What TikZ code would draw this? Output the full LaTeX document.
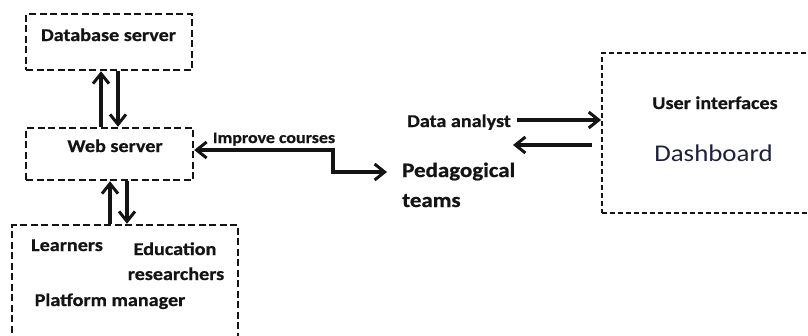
\documentclass[tikz,border=0pt]{standalone}
\usepackage{fontspec}
\setmainfont{Carlito}
\newfontfamily\labfont[FakeStretch=1.12, BoldFeatures={FakeBold=0.7}]{Carlito}
\usetikzlibrary{arrows.meta}
\definecolor{ink}{RGB}{20,20,20}
\definecolor{dashink}{RGB}{28,34,60}
\tikzset{
  dbox/.style={draw=ink, line width=2.4pt, dash pattern=on 7pt off 3.5pt, inner sep=0pt},
  thinbox/.style={draw=ink, line width=1.8pt, dash pattern=on 5pt off 3pt, inner sep=0pt},
  lab/.style={font=\labfont\bfseries\fontsize{18}{20}\selectfont, text=ink, inner sep=0pt, anchor=base},
  biglab/.style={lab, font=\labfont\bfseries\fontsize{20.5}{22}\selectfont},
  smalllab/.style={lab, font=\labfont\bfseries\fontsize{16}{18}\selectfont},
  dashlab/.style={font=\labfont\fontsize{24}{26}\selectfont, text=dashink, inner sep=0pt, anchor=base},
  tip/.tip={Straight Barb[length=10pt,width=16pt,line width=3pt]},
  arr/.style={draw=ink, line width=3.3pt, -tip},
  darr/.style={draw=ink, line width=3.3pt, tip-tip},
}
\begin{document}
\begin{tikzpicture}[x=1pt,y=-1pt]
\clip (0,0) rectangle (808,335);
\fill[white] (0,0) rectangle (808,335);
% boxes
\node[dbox, minimum width=166pt, minimum height=56pt] (db) at (109,42) {};
\node[dbox, minimum width=167pt, minimum height=52pt] (web) at (109.5,154) {};
\node[dbox, minimum width=226pt, minimum height=130pt] (users) at (125,290) {};
\node[thinbox, minimum width=230pt, minimum height=160pt] (ui) at (717,133) {};
% texts
\node[lab] (dbt) at (108.5,41) {Database server};
\node[lab] (webt) at (115,152) {Web server};
\node[smalllab] (imp) at (274,143) {Improve courses};
\node[lab] (learn) at (67,251) {Learners};
\node[lab] (edu) at (175,255) {Education};
\node[lab] (res) at (176,280) {researchers};
\node[lab] (plat) at (110,306) {Platform manager};
\node[lab] (da) at (459,127) {Data analyst};
\node[biglab, anchor=base west] (peda) at (402,177) {Pedagogical};
\node[biglab, anchor=base west] (pedb) at (402,207) {teams};
\node[lab] (uit) at (715,109) {User interfaces};
\node[dashlab] (dash) at (713.5,161) {Dashboard};
% helper coordinates
\coordinate (c1) at (101,0);
\coordinate (c2) at (118,0);
\coordinate (c3) at (110,0);
\coordinate (c4) at (127,0);
\coordinate (bend) at (333,150);
\coordinate (ret) at (513,145);
% connectors
\draw[arr] (web.north -| c1) -- (db.south -| c1);
\draw[arr] (db.south -| c2) -- (web.north -| c2);
\draw[arr] (users.north -| c3) -- (web.south -| c3);
\draw[arr] (web.south -| c4) -- (users.north -| c4);
\draw[darr] (web.east |- bend) -- (bend) |- ([xshift=-15pt,yshift=5pt]peda.base west);
\draw[arr] ([xshift=6pt,yshift=7pt]da.base east) -- ([yshift=7pt]ui.west |- da.base);
\draw[arr, shorten <=9pt] (ui.west |- ret) -- (ret);
\end{tikzpicture}
\end{document}
